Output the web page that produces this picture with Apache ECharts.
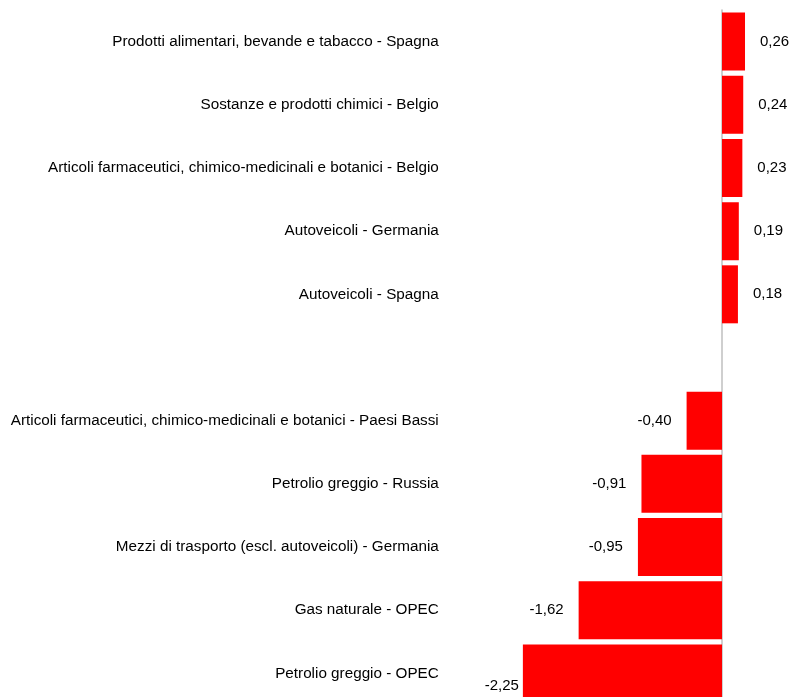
<!DOCTYPE html>
<html>
<head>
<meta charset="utf-8">
<script src="https://cdn.jsdelivr.net/npm/echarts@6/dist/echarts.min.js"></script>
<style>
  html, body { margin: 0; padding: 0; background: #fff; }
  #chart { width: 795px; height: 697px; }
</style>
</head>
<body>
<div id="chart"></div>
<script>
const categories = [
  'Prodotti alimentari, bevande e tabacco - Spagna',
  'Sostanze e prodotti chimici - Belgio',
  'Articoli farmaceutici, chimico-medicinali e botanici - Belgio',
  'Autoveicoli - Germania',
  'Autoveicoli - Spagna',
  '',
  'Articoli farmaceutici, chimico-medicinali e botanici - Paesi Bassi',
  'Petrolio greggio - Russia',
  'Mezzi di trasporto (escl. autoveicoli) - Germania',
  'Gas naturale - OPEC',
  'Petrolio greggio - OPEC'
]
const values = [0.26, 0.24, 0.23, 0.19, 0.18, null, -0.40, -0.91, -0.95, -1.62, -2.25]

const font = "'Liberation Sans', Arial, sans-serif"
const chart = echarts.init(document.getElementById('chart'))

const fmt = v => (v == null ? '' : v.toFixed(2).replace('.', ','))

const seriesData = values.map((v, i) => {
  const item = { value: v == null ? '-' : v }
  item.label = { position: v < 0 ? 'left' : 'right' }
  // the last label sits lower, close to the bar (as in the source)
  if (i === values.length - 1) item.label.offset = [11, 12]
  return item
})

chart.setOption({
  animation: false,
  grid: { left: 500.75, right: 2.2, top: 10, bottom: -8, containLabel: false, outerBoundsMode: 'none' },
  xAxis: {
    type: 'value',
    min: -2.5,
    max: 0.8,
    show: false
  },
  yAxis: {
    type: 'category',
    data: categories,
    inverse: true,
    axisLine: { show: true, onZero: true, lineStyle: { color: '#bfbfbf', width: 1.5 } },
    axisTick: { show: false },
    axisLabel: { margin: 62, fontFamily: font, fontSize: 15.25, color: '#000' }
  },
  series: [{
    type: 'bar',
    data: seriesData,
    barWidth: 58,
    itemStyle: { color: '#ff0000' },
    label: {
      show: true,
      distance: 15,
      fontFamily: font,
      fontSize: 15,
      color: '#000',
      formatter: p => fmt(values[p.dataIndex])
    }
  }]
})
</script>
</body>
</html>
